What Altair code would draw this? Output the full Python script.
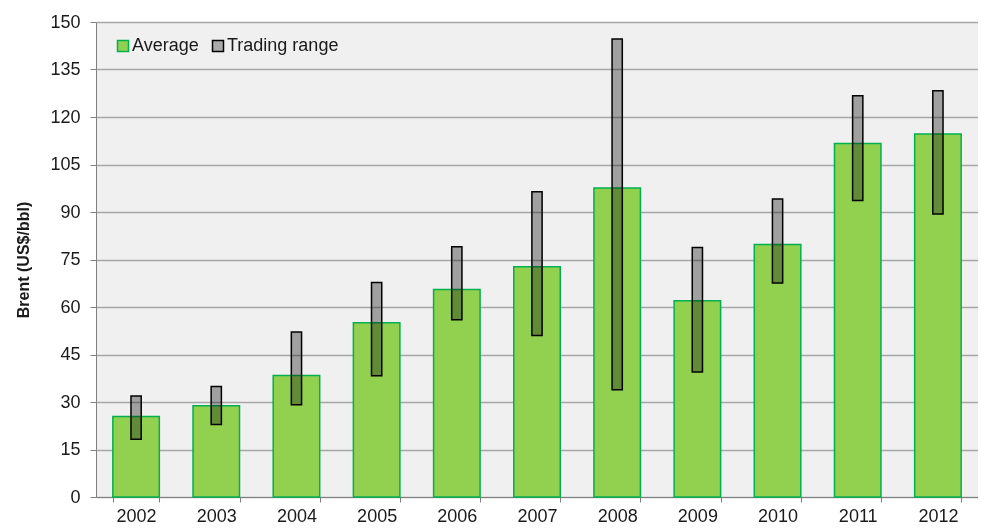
import altair as alt
import pandas as pd

years = ["2002", "2003", "2004", "2005", "2006", "2007", "2008", "2009", "2010", "2011", "2012"]
average = [25.4, 28.8, 38.4, 55.0, 65.5, 72.7, 97.6, 62.0, 79.7, 111.6, 114.6]
range_low = [18.2, 22.9, 29.1, 38.3, 56.0, 51.0, 33.9, 39.5, 67.6, 93.6, 89.4]
range_high = [31.9, 34.9, 52.1, 67.7, 79.0, 96.4, 144.6, 78.8, 94.1, 126.7, 128.3]

df = pd.DataFrame({
    "year": years,
    "average": average,
    "low": range_low,
    "high": range_high,
})
df["s_avg"] = "Average"
df["s_rng"] = "Trading range"

FONT = "Liberation Sans"
series = ["Average", "Trading range"]
fill_scale = alt.Scale(domain=series, range=["#92d050", "#aaaaaa"])
stroke_scale = alt.Scale(domain=series, range=["#00b050", "#000000"])

legend = alt.Legend(
    title=None, orient="none", legendX=18, legendY=15, direction="horizontal",
    symbolType="square", symbolSize=121, symbolStrokeWidth=1.5,
    labelFontSize=18, labelColor="#1a1a1a", labelFont=FONT,
    columnPadding=10, labelOffset=0,
)

yscale = alt.Scale(domain=[0, 150], nice=False)

x = alt.X("year:N", title=None, sort=years,
          scale=alt.Scale(paddingInner=0.42, paddingOuter=0.21),
          axis=alt.Axis(labelAngle=0, labelFontSize=18, labelColor="#1a1a1a",
                        labelFont=FONT, tickBand="extent",
                        tickColor="#808080", tickSize=5, domainColor="#808080",
                        labelPadding=5, grid=False))

bars = alt.Chart(df).mark_bar(strokeWidth=1.5).encode(
    x=x,
    y=alt.Y("average:Q", title="Brent (US$/bbl)", scale=yscale,
            axis=alt.Axis(values=list(range(0, 151, 15)), labelFontSize=18,
                          labelColor="#1a1a1a", labelFont=FONT,
                          titleFont=FONT, titleFontSize=16,
                          titleFontWeight="bold", titleColor="#1a1a1a",
                          titlePadding=18,
                          gridColor="#a6a6a6", gridWidth=1.5,
                          tickColor="#808080", tickSize=6, domainColor="#808080",
                          labelPadding=10)),
    fill=alt.Fill("s_avg:N", scale=fill_scale, legend=legend),
    stroke=alt.Stroke("s_avg:N", scale=stroke_scale, legend=legend),
)

ranges = alt.Chart(df).mark_bar(strokeWidth=1.5, blend="multiply",
                                width=alt.RelativeBandSize(0.22)).encode(
    x=alt.X("year:N", sort=years),
    y=alt.Y("low:Q", scale=yscale),
    y2="high:Q",
    fill=alt.Fill("s_rng:N", scale=fill_scale, legend=legend),
    stroke=alt.Stroke("s_rng:N", scale=stroke_scale, legend=legend),
)

chart = alt.layer(bars, ranges).properties(
    width=882, height=475,
    autosize=alt.AutoSizeParams(type="none"),
    padding={"left": 88, "top": 14, "right": 0, "bottom": 30},
    background="white",
).configure_view(fill="#f0f0f0", stroke=None)

chart.save("out.html", embed_options={"renderer": "svg", "actions": False})
